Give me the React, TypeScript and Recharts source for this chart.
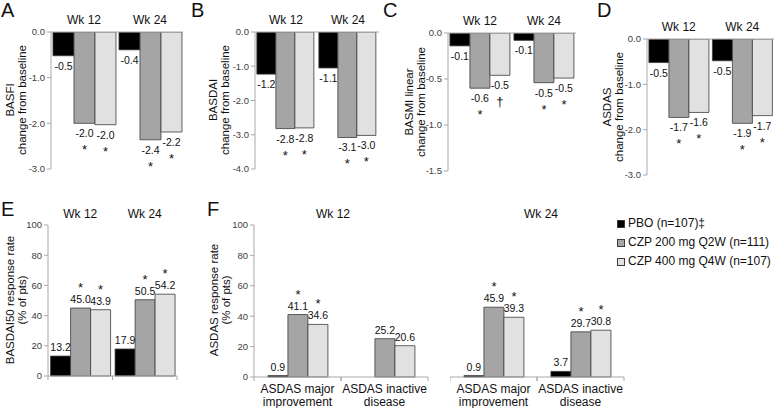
import React from 'react';
import { BarChart, Bar, XAxis, YAxis, LabelList } from 'recharts';

const FONT = '"Liberation Sans", Arial, Helvetica, sans-serif';

const SERIES = ['PBO (n=107)‡', 'CZP 200 mg Q2W (n=111)', 'CZP 400 mg Q4W (n=107)'];
const KEYS = ['pbo', 'q2w', 'q4w'];
const FILLS = ['#000000', '#a5a5a5', '#e1e1e1'];
const EDGE = '#3c3c3c';
const AXIS = '#a9a9a9';
const TICK = '#404040';

const weeks = ['Wk 12', 'Wk 24'];

// A - BASFI change from baseline
const basfiPbo = [-0.52, -0.39];
const basfiQ2w = [-2.0, -2.36];
const basfiQ4w = [-2.03, -2.19];
const basfiMarks = [['', '*', '*'], ['', '*', '*']];

// B - BASDAI change from baseline
const basdaiPbo = [-1.23, -1.05];
const basdaiQ2w = [-2.82, -3.08];
const basdaiQ4w = [-2.8, -3.02];
const basdaiMarks = [['', '*', '*'], ['', '*', '*']];

// C - BASMI linear change from baseline
const basmiPbo = [-0.14, -0.08];
const basmiQ2w = [-0.6, -0.54];
const basmiQ4w = [-0.46, -0.49];
const basmiMarks = [['', '*', '†'], ['', '*', '*']];

// D - ASDAS change from baseline
const asdasPbo = [-0.52, -0.48];
const asdasQ2w = [-1.73, -1.86];
const asdasQ4w = [-1.62, -1.69];
const asdasMarks = [['', '*', '*'], ['', '*', '*']];

// E - BASDAI50 response rate (% of pts)
const b50Pbo = [13.2, 17.9];
const b50Q2w = [45.0, 50.5];
const b50Q4w = [43.9, 54.2];
const b50Marks = [['', '*', '*'], ['', '*', '*']];

// F - ASDAS response rate (% of pts)
const asdasCats = ['ASDAS major\nimprovement', 'ASDAS inactive\ndisease'];
const f12Pbo = [0.9, 0.0];
const f12Q2w = [41.1, 25.2];
const f12Q4w = [34.6, 20.6];
const f12Marks = [['', '*', '*'], ['', '', '']];
const f24Pbo = [0.9, 3.7];
const f24Q2w = [45.9, 29.7];
const f24Q4w = [39.3, 30.8];
const f24Marks = [['', '*', '*'], ['', '*', '*']];

const changeTicks3 = [-3, -2, -1, 0];
const changeTicks4 = [-4, -3, -2, -1, 0];
const basmiTicks = [-1.5, -1, -0.5, 0];
const rateTicks = [0, 20, 40, 60, 80, 100];

const buildRows = (cats: string[], pbo: number[], q2w: number[], q4w: number[]) =>
  cats.map((cat, i) => ({ cat, pbo: pbo[i], q2w: q2w[i], q4w: q4w[i] }));

function ValueLabel(props: any) {
  const { val, mark } = props;
  const vb = props.viewBox && props.viewBox.width != null ? props.viewBox : props;
  const x = Number(vb.x);
  const y = Number(vb.y);
  const w = Number(vb.width);
  const h = Number(vb.height);
  if (!isFinite(x) || !isFinite(y) || val == null) return null;
  const cx = x + w / 2;
  const lo = Math.min(y, y + h);
  const hi = Math.max(y, y + h);
  const neg = val < 0;
  const textY = neg ? hi + 14 : lo - 5;
  const markY = neg ? hi + 31 : lo - 16;
  return (
    <g>
      <text x={cx} y={textY} textAnchor="middle" fontSize={10.5} fill="#111" fontFamily={FONT}>
        {Number(val).toFixed(1)}
      </text>
      {mark ? (
        <text x={cx} y={markY} textAnchor="middle" fontSize={13} fill="#111" fontFamily={FONT}>
          {mark}
        </text>
      ) : null}
    </g>
  );
}

// category tick with small marks at the band edges, like the excel axis
function EdgeTick(props: any) {
  const { x, y, payload, showText } = props;
  let half = payload && payload.offset;
  if (!half) half = props.width / (props.visibleTicksCount || 2) / 2;
  const lines = String(payload.value).split('\n');
  return (
    <g>
      <line x1={x - half} x2={x - half} y1={y} y2={y + 4} stroke={AXIS} />
      <line x1={x + half} x2={x + half} y1={y} y2={y + 4} stroke={AXIS} />
      {showText
        ? lines.map((l, i) => (
            <text key={i} x={x} y={y + 16 + i * 12.5} textAnchor="middle" fontSize={12} fill="#111" fontFamily={FONT}>
              {l}
            </text>
          ))
        : null}
    </g>
  );
}

const renderBars = (rows: any[], marks: string[][], xAxisId: any) =>
  KEYS.map((k, s) => (
    <Bar key={k} dataKey={k} name={SERIES[s]} fill={FILLS[s]} stroke={EDGE} strokeWidth={0.8}
      xAxisId={xAxisId} isAnimationActive={false}>
      <LabelList dataKey={k} content={(p: any) => (
        <ValueLabel {...p} val={rows[p.index] ? rows[p.index][k] : p.value} mark={marks[p.index] ? marks[p.index][s] : ''} />
      )} />
    </Bar>
  ));

function ChangeChart({ left, top, width, height, yw, xh, rows, marks, domain, ticks }: any) {
  return (
    <div style={{ position: 'absolute', left, top }}>
      <BarChart width={width} height={height} data={rows} margin={{ top: 0, right: 3, bottom: 5, left: 0 }}
        barCategoryGap="3%" barGap={0}>
        <XAxis xAxisId={0} dataKey="cat" orientation="top" height={xh} interval={0}
          axisLine={{ stroke: AXIS }} tickLine={false} tickSize={0} tickMargin={8}
          tick={{ fontSize: 12, fill: '#111', fontFamily: FONT }} />
        <YAxis width={yw} domain={domain} ticks={ticks} interval={0} allowDataOverflow
          tickFormatter={(v: number) => Number(v).toFixed(1)}
          tick={{ fontSize: 9.5, fill: TICK, fontFamily: FONT }} tickSize={4} tickMargin={2}
          tickLine={{ stroke: AXIS }} axisLine={{ stroke: AXIS }} />
        {renderBars(rows, marks, 0)}
      </BarChart>
    </div>
  );
}

function RateChart({ left, top, width, height, yw, rows, marks, headerAxis, catText, hideY, gap }: any) {
  return (
    <div style={{ position: 'absolute', left, top }}>
      <BarChart width={width} height={height} data={rows}
        margin={{ top: headerAxis ? 0 : 25, right: 3, bottom: 0, left: 0 }}
        barCategoryGap={gap} barGap={0}>
        {headerAxis ? (
          <XAxis xAxisId="top" dataKey="cat" orientation="top" height={25} interval={0}
            axisLine={false} tickLine={false} tickSize={0} tickMargin={7}
            tick={{ fontSize: 12, fill: '#111', fontFamily: FONT }} />
        ) : null}
        <XAxis xAxisId="base" dataKey="cat" orientation="bottom" height={catText ? 31 : 6} interval={0}
          axisLine={{ stroke: AXIS }} tickLine={false} tickSize={0} tickMargin={0}
          tick={<EdgeTick showText={catText} />} />
        <YAxis width={yw} hide={hideY} domain={[0, 100]} ticks={rateTicks} interval={0}
          tick={{ fontSize: 9.5, fill: TICK, fontFamily: FONT }} tickSize={4} tickMargin={2}
          tickLine={{ stroke: AXIS }} axisLine={{ stroke: AXIS }} />
        {renderBars(rows, marks, headerAxis ? 'top' : 'base')}
      </BarChart>
    </div>
  );
}

function SeriesKey({ left, top }: { left: number; top: number }) {
  return (
    <div style={{ position: 'absolute', left, top, fontFamily: FONT, fontSize: 12, color: '#111', lineHeight: '19px' }}>
      {SERIES.map((name, i) => (
        <div key={name} style={{ display: 'flex', alignItems: 'center', whiteSpace: 'nowrap' }}>
          <span style={{ display: 'inline-block', width: 6, height: 6, background: FILLS[i], border: `1px solid ${EDGE}`, marginRight: 3 }} />
          {name}
        </div>
      ))}
    </div>
  );
}

function YTitle({ x, y, lines }: { x: number; y: number; lines: string[] }) {
  return (
    <g>
      {lines.map((l, i) => (
        <text key={i} x={x + i * 12} y={y} transform={`rotate(-90 ${x + i * 12} ${y})`}
          textAnchor="middle" dominantBaseline="central" fontSize={11.5} fill="#111" fontFamily={FONT}>
          {l}
        </text>
      ))}
    </g>
  );
}

export default function App() {
  const rowsA = buildRows(weeks, basfiPbo, basfiQ2w, basfiQ4w);
  const rowsB = buildRows(weeks, basdaiPbo, basdaiQ2w, basdaiQ4w);
  const rowsC = buildRows(weeks, basmiPbo, basmiQ2w, basmiQ4w);
  const rowsD = buildRows(weeks, asdasPbo, asdasQ2w, asdasQ4w);
  const rowsE = buildRows(weeks, b50Pbo, b50Q2w, b50Q4w);
  const rowsF12 = buildRows(asdasCats, f12Pbo, f12Q2w, f12Q4w);
  const rowsF24 = buildRows(asdasCats, f24Pbo, f24Q2w, f24Q4w);

  const letter = { fontSize: 20, fill: '#111', fontFamily: FONT } as any;

  return (
    <div style={{ position: 'absolute', left: 0, top: 0, width: 777, height: 408, background: '#fff', overflow: 'hidden' }}>
      <ChangeChart left={26} top={0} width={160} height={174} yw={25} xh={32} rows={rowsA} marks={basfiMarks}
        domain={[-3, 0]} ticks={changeTicks3} />
      <ChangeChart left={229} top={0} width={153} height={174} yw={26} xh={32} rows={rowsB} marks={basdaiMarks}
        domain={[-4, 0]} ticks={changeTicks4} />
      <ChangeChart left={422} top={0} width={157} height={176} yw={26} xh={33} rows={rowsC} marks={basmiMarks}
        domain={[-1.5, 0]} ticks={basmiTicks} />
      <ChangeChart left={621} top={0} width={156} height={180} yw={26} xh={39} rows={rowsD} marks={asdasMarks}
        domain={[-3, 0]} ticks={changeTicks3} />

      <RateChart left={22} top={200} width={158} height={182} yw={26} rows={rowsE} marks={b50Marks}
        headerAxis catText={false} gap="4%" />
      <RateChart left={228} top={200} width={203} height={208} yw={26} rows={rowsF12} marks={f12Marks}
        catText gap="16%" />
      <RateChart left={450} top={200} width={177} height={208} yw={0} hideY rows={rowsF24} marks={f24Marks}
        catText gap="16%" />

      <SeriesKey left={617} top={214} />

      <svg width={777} height={408} style={{ position: 'absolute', left: 0, top: 0, pointerEvents: 'none' }}>
        <text x={1} y={17} {...letter}>A</text>
        <text x={191} y={17} {...letter}>B</text>
        <text x={383} y={17} {...letter}>C</text>
        <text x={597} y={17} {...letter}>D</text>
        <text x={1} y={216} {...letter}>E</text>
        <text x={207} y={216} {...letter}>F</text>

        <YTitle x={10} y={100} lines={['BASFI', 'change from baseline']} />
        <YTitle x={213} y={100} lines={['BASDAI', 'change from baseline']} />
        <YTitle x={409} y={102} lines={['BASMI linear', 'change from baseline']} />
        <YTitle x={607} y={107} lines={['ASDAS', 'change from baseline']} />
        <YTitle x={10} y={300} lines={['BASDAI50 response rate', '(% of pts)']} />
        <YTitle x={214} y={300} lines={['ASDAS response rate', '(% of pts)']} />

        <text x={333} y={218} textAnchor="middle" fontSize={12} fill="#111" fontFamily={FONT}>Wk 12</text>
        <text x={541} y={218} textAnchor="middle" fontSize={12} fill="#111" fontFamily={FONT}>Wk 24</text>
      </svg>
    </div>
  );
}
